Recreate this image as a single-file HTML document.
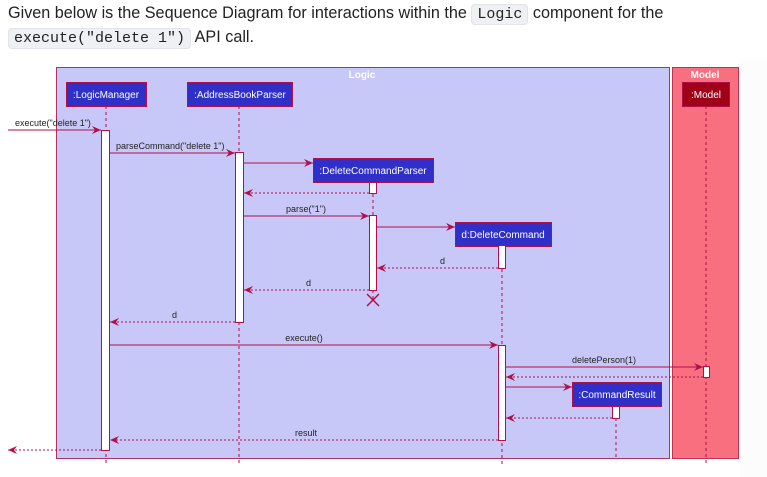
<!DOCTYPE html>
<html><head><meta charset="utf-8"><style>
body{margin:0;background:#fff;width:767px;height:477px;overflow:hidden;font-family:"Liberation Sans",sans-serif}
.t{position:absolute;left:8px;font-size:16.2px;color:#222;white-space:nowrap}
code{font-family:"Liberation Mono",monospace;background:#eef0f4;border:1px solid #e2e4ea;border-radius:4px;padding:1px 5px;font-size:15px}
svg{position:absolute;left:0;top:0}
</style></head><body>
<div class="t" style="top:4px">Given below is the Sequence Diagram for interactions within the <code>Logic</code> component for the</div>
<div class="t" style="top:28px"><code>execute("delete 1")</code> API call.</div>
<svg width="767" height="477" font-family="Liberation Sans,sans-serif" font-size="9">
<defs><marker id="a" markerWidth="10" markerHeight="8" refX="9" refY="4" orient="auto" markerUnits="userSpaceOnUse"><path d="M0,0 L9,4 L0,8 L3,4 Z" fill="#b0104a"/></marker></defs>
<rect x="740" y="60" width="27" height="417" fill="#fcfcfd"/>
<rect x="56.5" y="67.5" width="613" height="391" fill="#c8c8f8" stroke="#b03060"/>
<rect x="672.5" y="67.5" width="66" height="391" fill="#f87080" stroke="#c03050"/>
<text x="362" y="78" fill="#fff" font-weight="bold" font-size="10" text-anchor="middle">Logic</text>
<text x="705" y="78" fill="#fff" font-weight="bold" font-size="10" text-anchor="middle">Model</text>
<g stroke="#b0104a" stroke-dasharray="3,3" stroke-width="1">
<line x1="106" y1="106" x2="106" y2="465"/><line x1="239" y1="106" x2="239" y2="465"/>
<line x1="373" y1="182" x2="373" y2="300"/><line x1="502" y1="245" x2="502" y2="465"/>
<line x1="706" y1="106" x2="706" y2="465"/><line x1="616" y1="406" x2="616" y2="459"/>
</g>
<g fill="#3030c8" stroke="#b0104a">
<rect x="66.5" y="82.5" width="80" height="24"/><rect x="187.5" y="82.5" width="105" height="24"/>
<rect x="313.5" y="158.5" width="120" height="24"/><rect x="455.5" y="222.5" width="96" height="24"/>
<rect x="572.5" y="382.5" width="89" height="24"/>
<rect x="682.5" y="82.5" width="47" height="24" fill="#a00018"/>
</g>
<g fill="#fff" font-size="10" text-anchor="middle">
<text x="106" y="98">:LogicManager</text><text x="240" y="98">:AddressBookParser</text>
<text x="373" y="174">:DeleteCommandParser</text><text x="503" y="238">d:DeleteCommand</text>
<text x="617" y="398">:CommandResult</text><text x="706" y="98">:Model</text>
</g>
<g fill="#fff" stroke="#b0104a">
<rect x="101.5" y="130.5" width="8" height="320"/><rect x="235.5" y="152.5" width="8" height="170"/>
<rect x="369.5" y="182.5" width="7" height="11"/><rect x="369.5" y="215.5" width="7" height="75"/>
<rect x="498.5" y="245.5" width="7" height="23"/><rect x="498.5" y="345.5" width="7" height="95"/>
<rect x="703.5" y="366.5" width="6" height="11"/><rect x="612.5" y="406.5" width="7" height="12"/>
</g>
<g stroke="#b0104a" fill="none" marker-end="url(#a)">
<line x1="8" y1="130" x2="101" y2="130"/><line x1="110" y1="153" x2="235" y2="153"/>
<line x1="244" y1="163" x2="313" y2="163"/><line x1="244" y1="216" x2="369" y2="216"/>
<line x1="377" y1="227" x2="455" y2="227"/><line x1="110" y1="345" x2="498" y2="345"/>
<line x1="506" y1="367" x2="703" y2="367"/><line x1="506" y1="387" x2="572" y2="387"/>
</g>
<g stroke="#b0104a" fill="none" stroke-dasharray="2,2" marker-end="url(#a)">
<line x1="369" y1="193" x2="244" y2="193"/><line x1="498" y1="268" x2="377" y2="268"/>
<line x1="369" y1="290" x2="244" y2="290"/><line x1="235" y1="322" x2="110" y2="322"/>
<line x1="703" y1="377" x2="506" y2="377"/><line x1="612" y1="418" x2="506" y2="418"/>
<line x1="498" y1="440" x2="110" y2="440"/><line x1="101" y1="450" x2="8" y2="450"/>
</g>
<g stroke="#b0104a" stroke-width="1.5"><line x1="367" y1="294" x2="379" y2="306"/><line x1="379" y1="294" x2="367" y2="306"/></g>
<g fill="#222">
<text x="15" y="126">execute("delete 1")</text><text x="116" y="149">parseCommand("delete 1")</text>
<text x="306" y="212" text-anchor="middle">parse("1")</text><text x="440" y="264">d</text>
<text x="306" y="286">d</text><text x="172" y="318">d</text>
<text x="304" y="341" text-anchor="middle">execute()</text><text x="604" y="363" text-anchor="middle">deletePerson(1)</text>
<text x="306" y="436" text-anchor="middle">result</text>
</g>
</svg>
</body></html>
